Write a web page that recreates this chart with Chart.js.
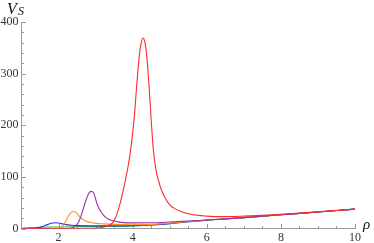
<!DOCTYPE html>
<html><head><meta charset="utf-8">
<script src="https://cdn.jsdelivr.net/npm/chart.js@4/dist/chart.umd.min.js"></script>
<style>html,body{margin:0;padding:0;background:#fff;overflow:hidden}</style>
</head><body>
<canvas id="c" width="374" height="243"></canvas>
<script>
// ---- data ----
const xTickValues = [2, 4, 6, 8, 10];
const xMinorTickValues = [1.5, 2.5, 3, 3.5, 4.5, 5, 5.5, 6.5, 7, 7.5, 8.5, 9, 9.5];
const yTickValues = [0, 100, 200, 300, 400];
const yMinorTickValues = [20, 40, 60, 80, 120, 140, 160, 180, 220, 240, 260, 280, 320, 340, 360, 380];

const redRho = [1, 2, 2.5, 3, 3.2, 3.35, 3.47, 3.56, 3.66, 3.74, 3.8, 3.88, 3.94, 3.99, 4.05, 4.11, 4.17, 4.22, 4.28, 4.32, 4.36, 4.4, 4.44, 4.5, 4.56, 4.63, 4.7, 4.78, 4.9, 5.0, 5.15, 5.3, 5.6, 6.0, 6.4, 7, 7.5, 8, 8.5, 9, 9.5, 10];
const redVs  = [0, 0, 0.1, 0.8, 2.5, 6, 12, 25, 48, 72, 92, 122, 150, 178, 222, 278, 328, 356, 369, 364, 348, 318, 278, 210, 151, 113, 92, 74, 56, 46, 38, 33, 27, 24, 23, 24, 25.5, 27.5, 29.8, 32.5, 35, 37.8];

const purpleRho = [1, 2.2, 2.3, 2.4, 2.45, 2.5, 2.55, 2.6, 2.65, 2.7, 2.75, 2.8, 2.84, 2.88, 2.92, 2.96, 3.0, 3.05, 3.1, 3.15, 3.2, 3.3, 3.4, 3.5, 3.7, 4, 4.5, 5, 5.5, 6, 6.5, 7, 7.5, 8, 8.5, 9, 9.5, 10];
const purpleVs  = [0, 0, 0.4, 2, 4, 8, 14, 23, 34, 46, 57, 66, 70.5, 72, 71, 67, 57, 46, 38, 32, 27, 20, 16.5, 14.5, 11.8, 10.8, 11, 12.5, 14.5, 16.5, 18.7, 21, 23.7, 26.5, 29.2, 32, 34.8, 37.5];

const orangeRho = [1, 1.95, 2.04, 2.1, 2.15, 2.2, 2.25, 2.3, 2.35, 2.4, 2.45, 2.5, 2.55, 2.6, 2.7, 2.8, 2.9, 3.0, 3.2, 3.5, 4, 4.5, 5, 5.5, 6, 7, 8, 9, 10];
const orangeVs  = [0, 0, 0.8, 3, 8, 15, 22, 28, 31.5, 33, 32, 29, 24.5, 20.5, 15.5, 12.8, 11.2, 10, 9, 8, 7.3, 8, 10.5, 13.5, 16.4, 21, 26.5, 32, 37.5];

const blueRho = [1, 1.2, 1.4, 1.55, 1.7, 1.8, 1.9, 2.0, 2.1, 2.2, 2.35, 2.5, 3, 3.5, 4, 4.5, 5, 5.5, 6, 7, 8, 9, 10];
const blueVs  = [0, 0.2, 1, 3.5, 7.5, 10, 11, 10.5, 9, 7.5, 6.3, 5.6, 5, 5, 5.5, 7, 9.5, 13, 16.3, 21, 26.5, 32, 37.5];

const greenRho = [1, 1.2, 1.5, 2, 2.5, 3, 3.5, 4, 4.5, 5, 5.5, 6, 7, 8, 9, 10];
const greenVs  = [0.3, 1.5, 2.5, 3, 3.5, 4, 4.3, 5, 6.8, 9.5, 13, 16, 21, 26.5, 32, 37.5];

function pts(xs, ys) { return xs.map((x, i) => ({ x: x, y: ys[i] })); }

const serif = "'Liberation Serif', 'DejaVu Serif', serif";
const axisColor = '#9a9a9a';

const decorPlugin = {
  id: 'decor',
  beforeDatasetsDraw(chart) {
    const { ctx, scales: { x, y } } = chart;
    const y0 = y.getPixelForValue(0);
    const x0 = x.getPixelForValue(1);
    ctx.save();
    ctx.strokeStyle = axisColor;
    ctx.lineWidth = 1;
    ctx.beginPath();
    xTickValues.forEach(v => { const p = Math.round(x.getPixelForValue(v)) + 0.5; ctx.moveTo(p, y0); ctx.lineTo(p, y0 - 4.5); });
    xMinorTickValues.forEach(v => { const p = Math.round(x.getPixelForValue(v)) + 0.5; ctx.moveTo(p, y0); ctx.lineTo(p, y0 - 2.5); });
    yTickValues.forEach(v => { const p = Math.round(y.getPixelForValue(v)) + 0.5; ctx.moveTo(x0, p); ctx.lineTo(x0 + 4.5, p); });
    yMinorTickValues.forEach(v => { const p = Math.round(y.getPixelForValue(v)) + 0.5; ctx.moveTo(x0, p); ctx.lineTo(x0 + 2.5, p); });
    ctx.stroke();
    ctx.restore();
  },
  afterDraw(chart) {
    const { ctx } = chart;
    ctx.save();
    ctx.fillStyle = '#111';
    ctx.textBaseline = 'alphabetic';
    ctx.textAlign = 'left';
    ctx.font = "italic 16px " + serif;
    ctx.fillText('V', 7, 14);
    ctx.font = "italic 12px " + serif;
    ctx.fillText('S', 18, 15);
    ctx.font = "italic 15px " + serif;
    ctx.fillText('ρ', 363, 229);
    ctx.restore();
  }
};

new Chart(document.getElementById('c'), {
  type: 'line',
  data: {
    datasets: [
      { label: 'red', data: pts(redRho, redVs), borderColor: '#ff2a2a' },
      { label: 'purple', data: pts(purpleRho, purpleVs), borderColor: '#9a2fa8' },
      { label: 'orange', data: pts(orangeRho, orangeVs), borderColor: '#ff9326' },
      { label: 'blue', data: pts(blueRho, blueVs), borderColor: '#2a2aff' },
      { label: 'green', data: pts(greenRho, greenVs), borderColor: '#22c422' }
    ]
  },
  options: {
    responsive: false,
    devicePixelRatio: 1,
    animation: false,
    layout: { padding: { top: 22, right: 19, left: 0, bottom: 0 } },
    elements: {
      line: { borderWidth: 1.1, tension: 0.4, cubicInterpolationMode: 'monotone', fill: false },
      point: { radius: 0, hoverRadius: 0 }
    },
    plugins: { legend: { display: false }, tooltip: { enabled: false } },
    scales: {
      x: {
        type: 'linear', min: 1, max: 10,
        afterBuildTicks: s => { s.ticks = xTickValues.map(v => ({ value: v })); },
        afterFit: s => { s.height = 14.5; },
        grid: { display: false, drawTicks: false },
        border: { display: true, color: axisColor, width: 1 },
        ticks: { font: { family: serif, size: 12 }, color: '#333', padding: 2, maxRotation: 0, autoSkip: false }
      },
      y: {
        type: 'linear', min: 0, max: 400,
        afterBuildTicks: s => { s.ticks = yTickValues.map(v => ({ value: v })); },
        afterFit: s => { s.width = 21.5; },
        grid: { display: false, drawTicks: false },
        border: { display: true, color: axisColor, width: 1 },
        ticks: { font: { family: serif, size: 12 }, color: '#333', padding: 3, autoSkip: false }
      }
    }
  },
  plugins: [decorPlugin]
});
</script>
</body></html>
